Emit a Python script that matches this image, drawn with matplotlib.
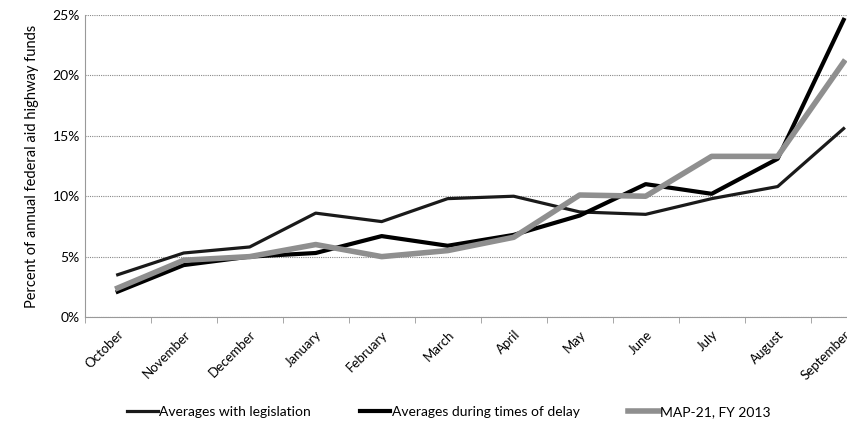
import matplotlib.pyplot as plt
from matplotlib.ticker import FuncFormatter, FixedLocator

months = ["October", "November", "December", "January", "February", "March",
          "April", "May", "June", "July", "August", "September"]
with_legislation = [3.5, 5.3, 5.8, 8.6, 7.9, 9.8, 10.0, 8.7, 8.5, 9.8, 10.8, 15.6]
times_of_delay = [2.1, 4.3, 5.0, 5.3, 6.7, 5.9, 6.8, 8.4, 11.0, 10.2, 13.1, 24.6]
map21_fy2013 = [2.4, 4.7, 5.0, 6.0, 5.0, 5.5, 6.6, 10.1, 10.0, 13.3, 13.3, 21.1]

plt.rcParams['font.family'] = ['Lato', 'DejaVu Sans']

fig = plt.figure(figsize=(8.47, 4.29), dpi=100)
ax = fig.add_axes([0.1, 0.261, 0.935, 0.704])

x = list(range(len(months)))
ax.plot(x, with_legislation, color="#1a1a1a", lw=2.3, label="Averages with legislation")
ax.plot(x, times_of_delay, color="#000000", lw=3.0, label="Averages during times of delay")
ax.plot(x, map21_fy2013, color="#8f8f8f", lw=4.0, label="MAP-21, FY 2013")

ax.set_xlim(-0.5, len(months) - 0.5)
ax.set_ylim(0, 25)
ax.set_yticks([0, 5, 10, 15, 20, 25])
ax.yaxis.set_major_formatter(FuncFormatter(lambda v, p: "%d%%" % v))
ax.grid(axis="y", color="#888888", ls=(0, (1, 1)), lw=0.8)
ax.set_axisbelow(True)

ax.set_xticks(x)
ax.set_xticklabels(months, rotation=45, ha="right", rotation_mode="anchor", fontsize=9.5)
ax.tick_params(axis="x", which="major", length=0, pad=8)
ax.xaxis.set_minor_locator(FixedLocator([i + 0.5 for i in range(-1, len(months))]))
ax.tick_params(axis="x", which="minor", length=4, color="#999999")
ax.tick_params(axis="y", length=0, labelsize=10)

for s in ["top", "right"]:
    ax.spines[s].set_visible(False)
ax.spines["left"].set_color("#999999")
ax.spines["bottom"].set_color("#999999")
ax.spines["bottom"].set_linestyle((0, (1, 1)))

ax.set_ylabel("Percent of annual federal aid highway funds", fontsize=10.5, labelpad=10)

fig.legend(loc="center", bbox_to_anchor=(0.53, 0.04), ncol=3, frameon=False,
           fontsize=10, handlelength=2.2, handletextpad=0.1, columnspacing=3.5)

fig.savefig("out.png", dpi=100)
